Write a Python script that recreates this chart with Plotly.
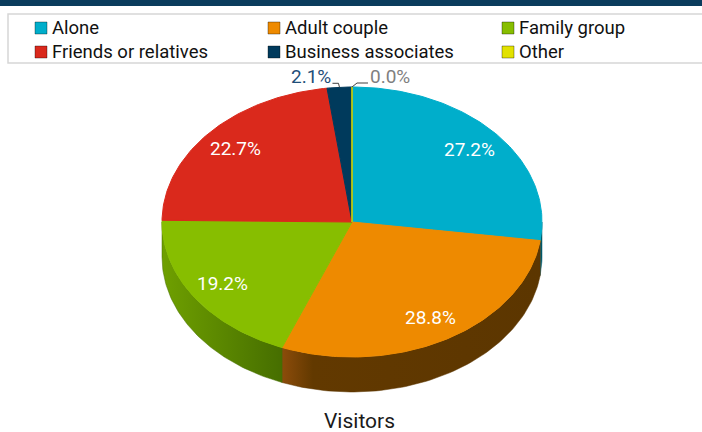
import numpy as np
import plotly.graph_objects as go

# ---- data ----
categories = ["Alone", "Adult couple", "Family group",
              "Friends or relatives", "Business associates", "Other"]
values = [27.2, 28.8, 19.2, 22.7, 2.1, 0.0]
chart_title = "Visitors"

# ---- styles ----
top_colors = ["#00AECB", "#EE8A00", "#87BE00", "#DA291C", "#003A5C", "#E2E200"]
side_scales = [
    [[0, "#00697a"], [1, "#005566"]],
    [[0, "#8c4c0a"], [0.12, "#623900"], [1, "#5c3600"]],
    [[0, "#6fa000"], [1, "#466e00"]],
    [[0, "#8a1a10"], [1, "#701408"]],
    [[0, "#002a44"], [1, "#002238"]],
    [[0, "#9a9a00"], [1, "#8a8a00"]],
]
FONT = "Roboto, Liberation Sans, Arial, sans-serif"

W, H = 702, 432
cx, cy, rx, ry, depth = 352, 222, 190, 135, 35


def ell(a_deg, dy=0.0, r=1.0):
    a = np.radians(a_deg)
    return cx + r * rx * np.sin(a), cy - r * ry * np.cos(a) + dy


total = sum(values)
cum = np.concatenate([[0], np.cumsum(values)]) / total * 360.0

fig = go.Figure()

# sides (visible part between 90 and 270 degrees, clockwise from top)
for i, name in enumerate(categories):
    a1, a2 = cum[i], cum[i + 1]
    lo, hi = max(a1, 90), min(a2, 270)
    if hi <= lo:
        continue
    t = np.linspace(lo, hi, 80)
    xt, yt = ell(t)
    xb, yb = ell(t[::-1], depth)
    xs = np.concatenate([xt, xb, xt[:1]])
    ys = np.concatenate([yt, yb, yt[:1]])
    fig.add_trace(go.Scatter(
        x=xs, y=ys, mode="lines", fill="toself",
        line=dict(width=0.5, color=side_scales[i][-1][1]),
        fillgradient=dict(type="horizontal", colorscale=side_scales[i]),
        hoverinfo="skip", showlegend=False))

# top faces
for i, name in enumerate(categories):
    a1, a2 = cum[i], cum[i + 1]
    n = max(2, int((a2 - a1) / 1.0) + 2)
    t = np.linspace(a1, a2, n)
    xa, ya = ell(t)
    xs = np.concatenate([[cx], xa, [cx]])
    ys = np.concatenate([[cy], ya, [cy]])
    fig.add_trace(go.Scatter(
        x=xs, y=ys, mode="lines", fill="toself", fillcolor=top_colors[i],
        line=dict(width=1, color=top_colors[i]),
        name=name, hoverinfo="skip", showlegend=False))

annotations = []
# labels
for i, v in enumerate(values):
    mid = (cum[i] + cum[i + 1]) / 2
    txt = f"{v:.1f}%"
    if v >= 5:
        lx, ly = ell(mid, r=0.82)
        annotations.append(dict(x=lx, y=ly, text=txt, showarrow=False,
                                font=dict(family=FONT, size=19, color="white"),
                                xanchor="center", yanchor="middle"))
    else:
        ex, ey = ell(mid)
        if i == 4:
            lxs = [ex, ex - 1, ex - 7]
            lys = [ey, ey - 4, ey - 4]
            annotations.append(dict(x=ex - 6, y=ey - 10.5, text=txt, showarrow=False,
                                    font=dict(family=FONT, size=19, color="#1F4E79"),
                                    xanchor="right", yanchor="middle"))
        else:
            lxs = [ex, ex + 5, ex + 16]
            lys = [ey, ey - 4, ey - 4]
            annotations.append(dict(x=ex + 16, y=ey - 10.5, text=txt, showarrow=False,
                                    font=dict(family=FONT, size=19, color="#7F7F7F"),
                                    xanchor="left", yanchor="middle"))
        fig.add_trace(go.Scatter(x=lxs, y=lys, mode="lines",
                                 line=dict(color="#404040", width=1),
                                 hoverinfo="skip", showlegend=False))

# title
annotations.append(dict(x=359, y=421, text=chart_title, showarrow=False,
                        font=dict(family=FONT, size=21, color="#1a1a1a"),
                        xanchor="center", yanchor="middle"))

shapes = [
    dict(type="rect", x0=0, x1=W, y0=0, y1=6, fillcolor="#0B3C5D",
         line=dict(width=0), xref="x", yref="y"),
    dict(type="rect", x0=8, x1=W + 2, y0=14, y1=63, fillcolor="rgba(0,0,0,0)",
         line=dict(width=1.5, color="#D6D6D6"), xref="x", yref="y"),
]

# legend (manual)
col_x = [35, 268, 502]
row_y = [22, 46]
for i, name in enumerate(categories):
    c, r = i % 3, i // 3
    x0, y0 = col_x[c], row_y[r]
    shapes.append(dict(type="rect", x0=x0, x1=x0 + 12, y0=y0, y1=y0 + 12,
                       fillcolor=top_colors[i], line=dict(width=1, color="rgba(0,0,0,0.35)"),
                       xref="x", yref="y"))
    annotations.append(dict(x=x0 + 15, y=y0 + 6, text=name, showarrow=False,
                            font=dict(family=FONT, size=18.5, color="#111111"),
                            xanchor="left", yanchor="middle"))

fig.update_layout(
    width=W, height=H,
    margin=dict(l=0, r=0, t=0, b=0),
    paper_bgcolor="white", plot_bgcolor="white",
    xaxis=dict(range=[0, W], visible=False, fixedrange=True),
    yaxis=dict(range=[H, 0], visible=False, fixedrange=True),
    shapes=shapes, annotations=annotations, showlegend=False,
)

fig.write_html("out.html", config={"displayModeBar": False},
               post_script=["document.body.style.margin='0px';"])
